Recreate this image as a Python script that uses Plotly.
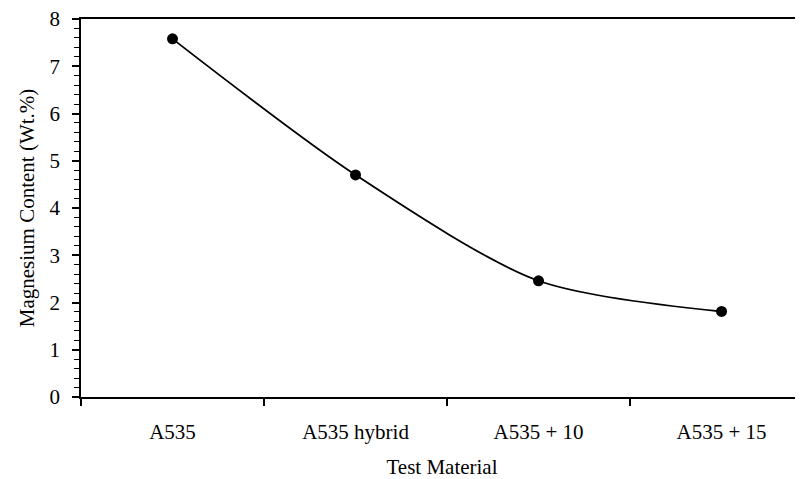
import plotly.graph_objects as go

materials = ["A535", "A535 hybrid", "A535 + 10", "A535 + 15"]
magnesium = [7.58, 4.70, 2.46, 1.81]
y_ticks = [0, 1, 2, 3, 4, 5, 6, 7, 8]

fig = go.Figure()
fig.add_trace(go.Scatter(
    x=materials, y=magnesium, mode="lines+markers",
    line=dict(color="black", width=1.8, shape="spline", smoothing=0.8),
    marker=dict(color="black", size=11),
    showlegend=False,
))

font = dict(family="Liberation Serif, Times New Roman, serif", size=21, color="black")

fig.update_layout(
    width=795, height=471,
    margin=dict(l=73, r=0, t=11, b=82),
    paper_bgcolor="white", plot_bgcolor="white",
    font=font,
)
fig.update_xaxes(
    type="category", range=[-0.5, 3.445],
    showline=True, linecolor="black", linewidth=1.5, mirror=True,
    ticks="outside", tickson="boundaries", ticklen=7, tickwidth=1.5, tickcolor="black",
    ticklabelstandoff=15,
    showgrid=False, zeroline=False,
    title=dict(text="Test Material", standoff=20, font=font),
    tickfont=font,
)
fig.update_yaxes(
    range=[0, 8], tickvals=y_ticks,
    showline=True, linecolor="black", linewidth=1.5,
    ticks="outside", ticklen=7, tickwidth=1.5, tickcolor="black",
    ticklabelstandoff=8, ticklabeloverflow="allow",
    minor=dict(dtick=0.2, ticks="outside", ticklen=5, tickwidth=1.2, tickcolor="black", showgrid=False),
    showgrid=False, zeroline=False,
    title=dict(text="Magnesium Content (Wt.%)", standoff=9, font=font),
    tickfont=font,
)

fig.write_html("out.html")
